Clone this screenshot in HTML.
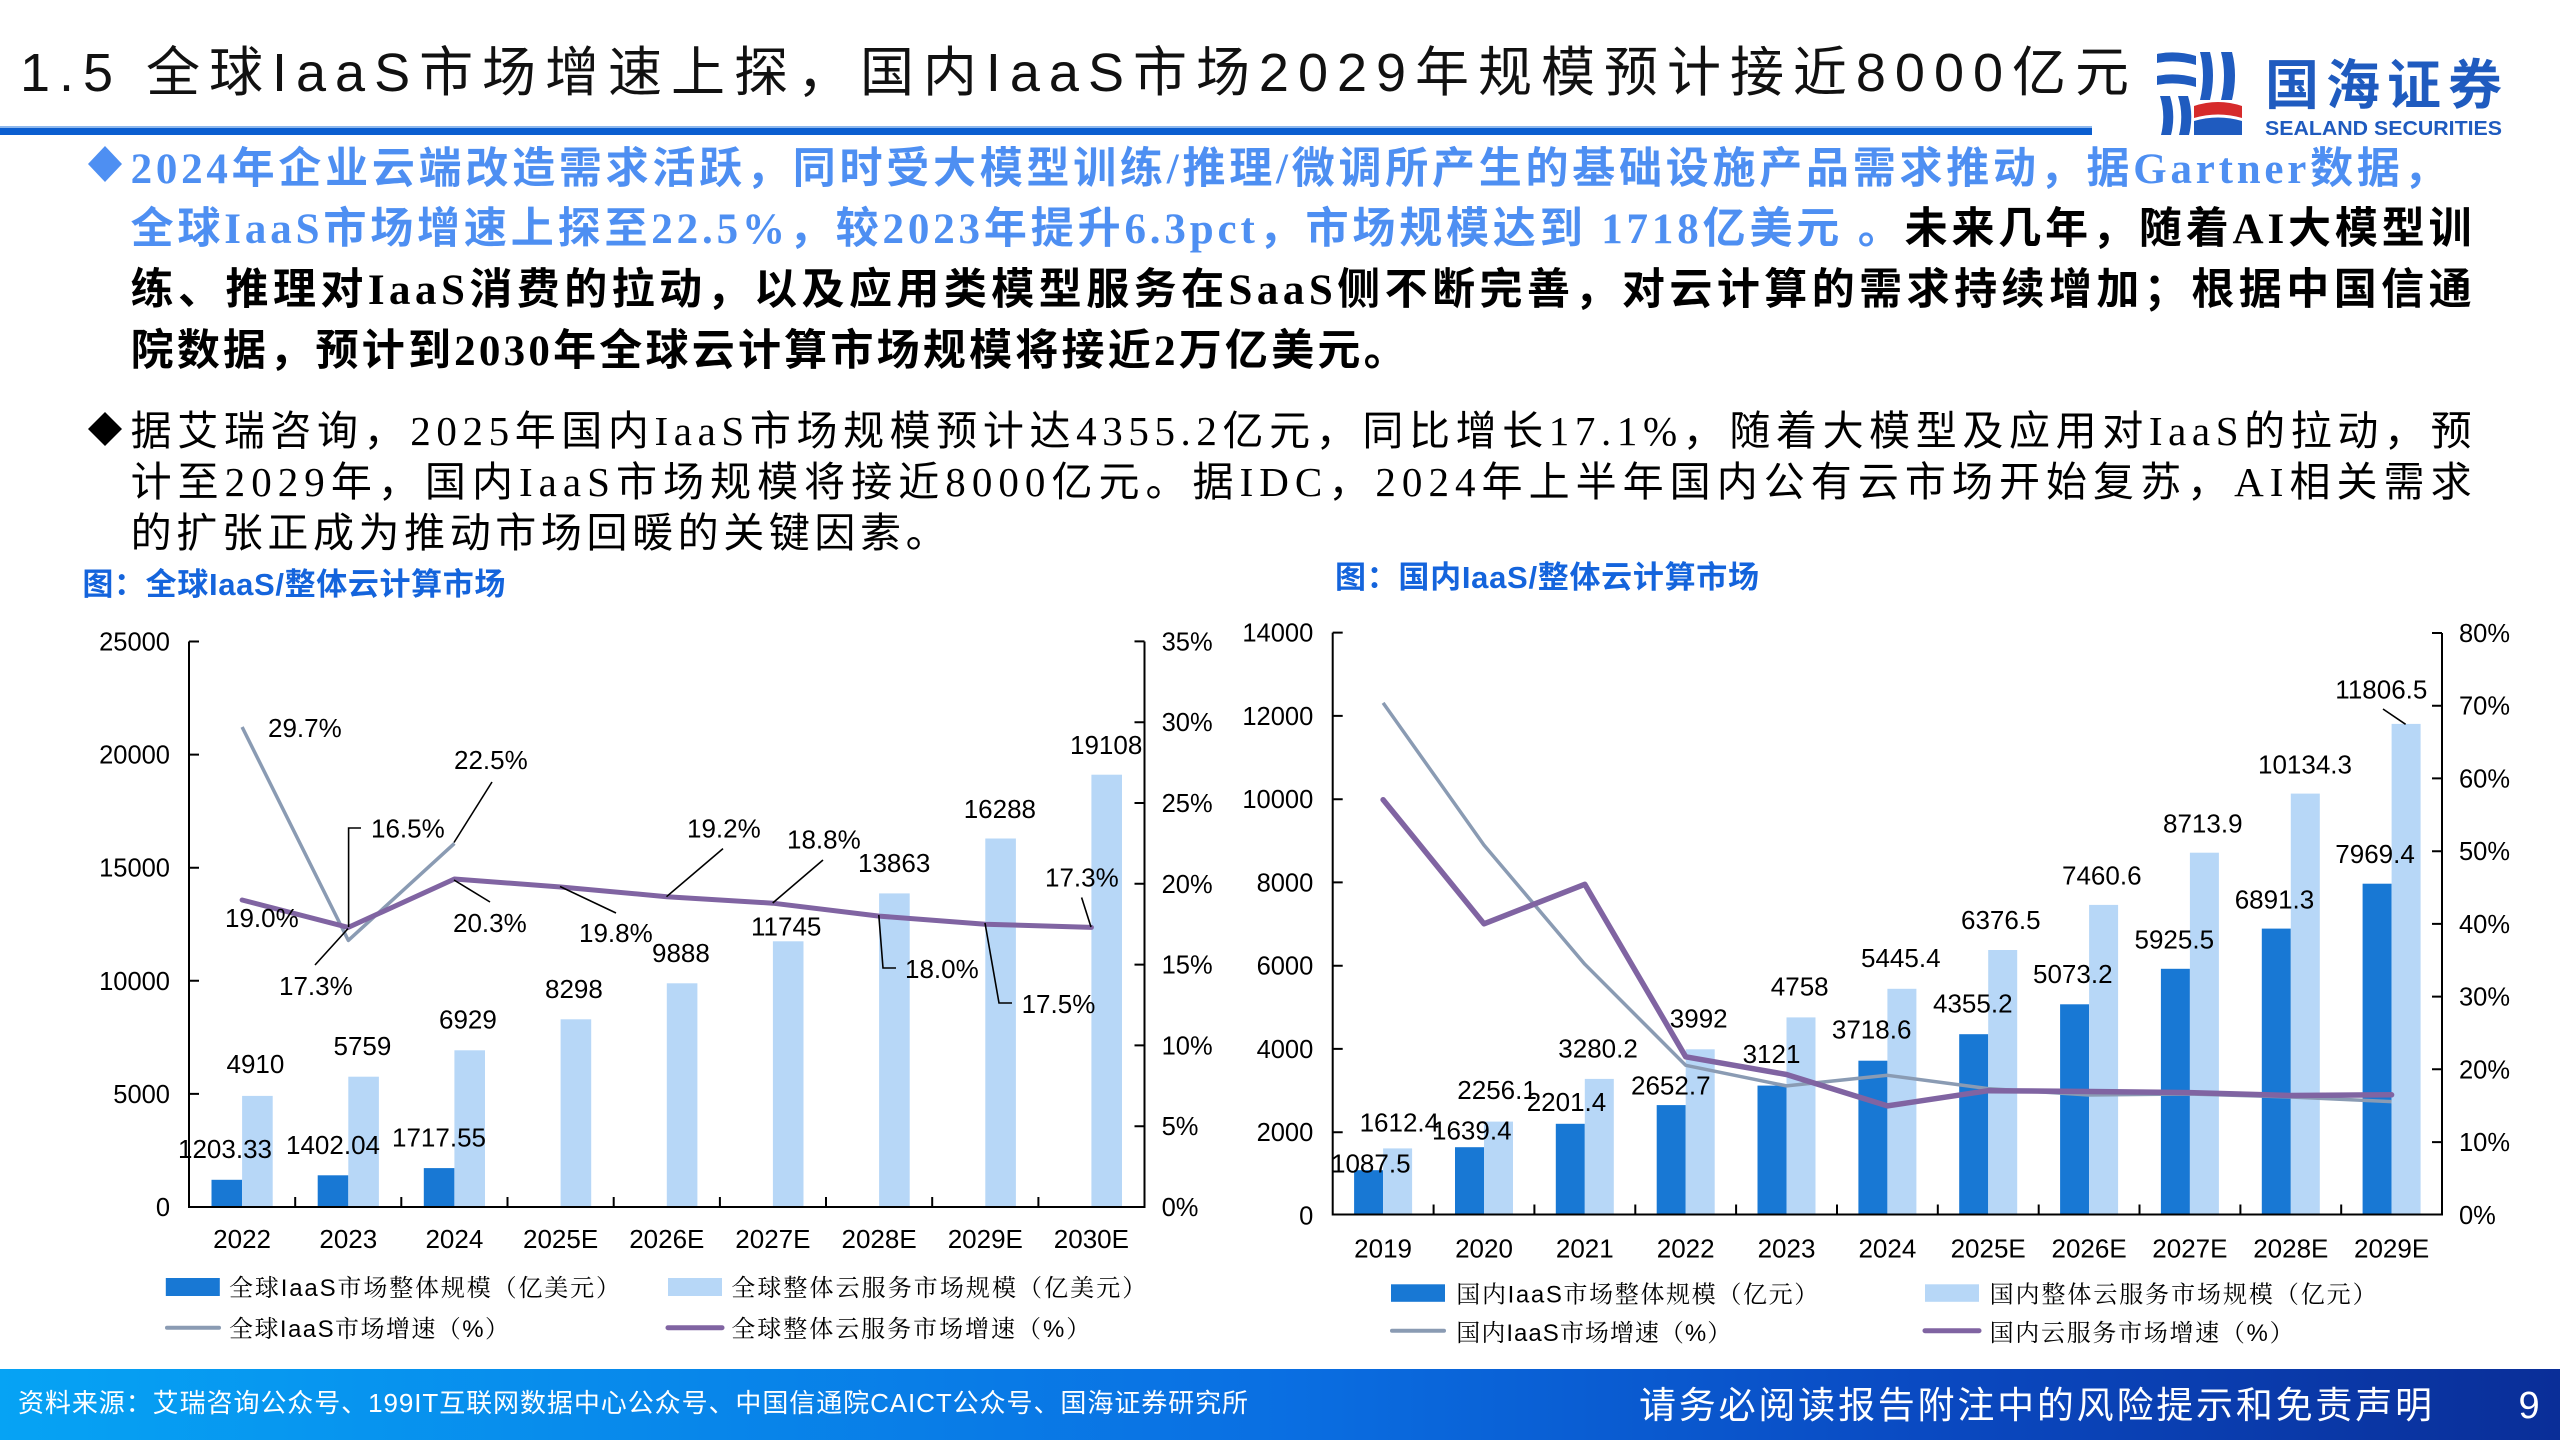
<!DOCTYPE html>
<html><head><meta charset="utf-8"><style>
html,body{margin:0;padding:0;background:#fff;}
svg{display:block;}
.t{font-family:"Liberation Sans","Noto Sans CJK SC",sans-serif;}
.b{font-family:"Liberation Serif","Noto Sans CJK SC",serif;}
.lg{font-family:"Liberation Sans","Noto Serif CJK SC",serif;font-size:24px;fill:#000;}
.d{font-family:"Liberation Sans",sans-serif;font-size:26px;fill:#000;}
.k{font-family:"Liberation Sans",sans-serif;font-size:25.5px;fill:#000;}
</style></head><body>
<svg width="2560" height="1440" viewBox="0 0 2560 1440" xmlns="http://www.w3.org/2000/svg">
<defs>
<linearGradient id="ft" x1="0" y1="0" x2="1" y2="0">
<stop offset="0" stop-color="#06a3f4"/>
<stop offset="0.5" stop-color="#0a6fe2"/>
<stop offset="0.75" stop-color="#0a4ac2"/>
<stop offset="1" stop-color="#0a2e98"/>
</linearGradient>
</defs>
<rect width="2560" height="1440" fill="#fff"/>

<!-- Title -->
<text class="t" x="20" y="91" font-size="54" fill="#111" textLength="2109" lengthAdjust="spacing">1.5 全球IaaS市场增速上探，国内IaaS市场2029年规模预计接近8000亿元</text>
<rect x="0" y="128" width="2092" height="7" fill="#0b5ed0"/>
<rect x="0" y="126" width="2092" height="2" fill="#8fb8ec"/>

<!-- Logo -->
<g fill="#1f5bbf">
<path d="M2157 54 Q2176 50 2196 56 L2196 65 Q2176 59 2157 63 Z"/>
<path d="M2157 76 Q2176 72 2196 78 L2196 87 Q2176 81 2157 85 Z"/>
<path d="M2160 96 Q2166 115 2161 135 L2171 135 Q2176 115 2170 96 Z"/>
<path d="M2178 96 Q2184 115 2179 135 L2189 135 Q2194 115 2188 96 Z"/>
<path d="M2200 52 Q2206 75 2200 100 L2210 100 Q2216 75 2210 52 Z"/>
<path d="M2221 52 Q2227 75 2221 100 L2232 100 Q2238 75 2232 52 Z"/>
<path d="M2194 121 Q2218 114 2242 121 L2242 135 L2194 135 Z"/>
</g>
<path d="M2194 106 Q2218 98 2242 106 L2242 118 Q2218 111 2194 118 Z" fill="#d62b2b"/>
<text x="2265" y="104" font-family="'Noto Sans CJK SC',sans-serif" font-weight="bold" font-size="54" fill="#1f5bbf" textLength="237" lengthAdjust="spacing">国海证券</text>
<text x="2265" y="135" font-family="'Liberation Sans',sans-serif" font-weight="bold" font-size="20" fill="#1f5bbf" textLength="237" lengthAdjust="spacingAndGlyphs">SEALAND SECURITIES</text>

<!-- Bullet 1 -->
<polygon points="105,146 122,164 105,182 88,164" fill="#4e8ff2"/>
<g class="b" font-size="43" font-weight="bold">
<text x="130.6" y="183" fill="#4e8ff2" textLength="2316" lengthAdjust="spacing">2024年企业云端改造需求活跃，同时受大模型训练/推理/微调所产生的基础设施产品需求推动，据Gartner数据，</text>
<text x="130.6" y="243" textLength="2341" lengthAdjust="spacing"><tspan fill="#4e8ff2">全球IaaS市场增速上探至22.5%，较2023年提升6.3pct，市场规模达到 1718亿美元 。</tspan><tspan fill="#000">未来几年，随着AI大模型训</tspan></text>
<text x="130.6" y="304" fill="#000" textLength="2341" lengthAdjust="spacing">练、推理对IaaS消费的拉动，以及应用类模型服务在SaaS侧不断完善，对云计算的需求持续增加；根据中国信通</text>
<text x="130.6" y="365" fill="#000" textLength="1276" lengthAdjust="spacing">院数据，预计到2030年全球云计算市场规模将接近2万亿美元。</text>
</g>

<!-- Bullet 2 -->
<polygon points="105,412 122,429 105,446 88,429" fill="#000"/>
<g class="b" font-size="41" fill="#000">
<text x="130.6" y="445" textLength="2341" lengthAdjust="spacing">据艾瑞咨询，2025年国内IaaS市场规模预计达4355.2亿元，同比增长17.1%，随着大模型及应用对IaaS的拉动，预</text>
<text x="130.6" y="496" textLength="2341" lengthAdjust="spacing">计至2029年，国内IaaS市场规模将接近8000亿元。据IDC，2024年上半年国内公有云市场开始复苏，AI相关需求</text>
<text x="130.6" y="547" textLength="816" lengthAdjust="spacing">的扩张正成为推动市场回暖的关键因素。</text>
</g>

<!-- Chart titles -->
<text class="t" x="82.4" y="595" font-size="31" font-weight="bold" fill="#1464dc" textLength="423" lengthAdjust="spacing">图：全球IaaS/整体云计算市场</text>
<text class="t" x="1335" y="588" font-size="31" font-weight="bold" fill="#1464dc" textLength="424" lengthAdjust="spacing">图：国内IaaS/整体云计算市场</text>

<!-- ================= LEFT CHART ================= -->
<g fill="#1878d4">
<rect x="211.5" y="1179.8" width="30.6" height="27.2"/>
<rect x="317.7" y="1175.3" width="30.6" height="31.7"/>
<rect x="423.8" y="1168.1" width="30.6" height="38.9"/>
</g>
<g fill="#b7d7f7">
<rect x="242.1" y="1095.9" width="30.6" height="111.1"/>
<rect x="348.3" y="1076.7" width="30.6" height="130.3"/>
<rect x="454.4" y="1050.3" width="30.6" height="156.7"/>
<rect x="560.6" y="1019.3" width="30.6" height="187.7"/>
<rect x="666.8" y="983.3" width="30.6" height="223.7"/>
<rect x="772.9" y="941.3" width="30.6" height="265.7"/>
<rect x="879.1" y="893.4" width="30.6" height="313.6"/>
<rect x="985.3" y="838.5" width="30.6" height="368.5"/>
<rect x="1091.4" y="774.7" width="30.6" height="432.3"/>
</g>
<!-- axes -->
<g stroke="#000" stroke-width="2" fill="none">
<path d="M189 641.5 V1207 H1144.5 V641.5"/>
<path d="M189 641.5 h10 M189 754.6 h10 M189 867.7 h10 M189 980.8 h10 M189 1093.9 h10"/>
<path d="M1144.5 641.4 h-10 M1144.5 722.2 h-10 M1144.5 803 h-10 M1144.5 883.8 h-10 M1144.5 964.6 h-10 M1144.5 1045.4 h-10 M1144.5 1126.2 h-10"/>
<path d="M295.2 1207 v-10 M401.3 1207 v-10 M507.5 1207 v-10 M613.7 1207 v-10 M719.9 1207 v-10 M826 1207 v-10 M932.2 1207 v-10 M1038.4 1207 v-10"/>
</g>
<g class="k" text-anchor="end">
<text x="170" y="650.5">25000</text><text x="170" y="763.6">20000</text><text x="170" y="876.7">15000</text>
<text x="170" y="989.8">10000</text><text x="170" y="1102.9">5000</text><text x="170" y="1216">0</text>
</g>
<g class="k">
<text x="1161.6" y="650.4">35%</text><text x="1161.6" y="731.2">30%</text><text x="1161.6" y="812">25%</text>
<text x="1161.6" y="892.8">20%</text><text x="1161.6" y="973.6">15%</text><text x="1161.6" y="1054.4">10%</text>
<text x="1161.6" y="1135.2">5%</text><text x="1161.6" y="1216">0%</text>
</g>
<g class="d" text-anchor="middle">
<text x="242.1" y="1248">2022</text><text x="348.3" y="1248">2023</text><text x="454.4" y="1248">2024</text>
<text x="560.6" y="1248">2025E</text><text x="666.8" y="1248">2026E</text><text x="772.9" y="1248">2027E</text>
<text x="879.1" y="1248">2028E</text><text x="985.3" y="1248">2029E</text><text x="1091.4" y="1248">2030E</text>
</g>
<!-- lines -->
<polyline points="242.1,727 348.3,940.4 454.4,843.4" fill="none" stroke="#8a9bb3" stroke-width="3.5" stroke-linejoin="round"/>
<polyline points="242.1,900 348.3,927.4 454.4,879 560.6,887 666.8,896.7 772.9,903.2 879.1,916.1 985.3,924.2 1091.4,927.4" fill="none" stroke="#8064a2" stroke-width="5" stroke-linejoin="round" stroke-linecap="round"/>
<!-- leaders -->
<g stroke="#000" stroke-width="1.6" fill="none">
<path d="M492 782 L454 842.5"/>
<path d="M361 828 H348.6 V927"/>
<path d="M315 965 L348 928.6"/>
<path d="M490 902 L454 880"/>
<path d="M616 913 L560 886.5"/>
<path d="M723 848.6 L666.5 896.7"/>
<path d="M823 860 L772.7 903"/>
<path d="M1081.6 897.5 L1091 927"/>
<path d="M896 968 H883 L878.8 915"/>
<path d="M1012 1003 H999 L985 923"/>
</g>
<g class="d">
<text x="268" y="737">29.7%</text>
<text x="454" y="769">22.5%</text>
<text x="371" y="837.5">16.5%</text>
<text x="225" y="927">19.0%</text>
<text x="279" y="995">17.3%</text>
<text x="453" y="932">20.3%</text>
<text x="579" y="942">19.8%</text>
<text x="226.5" y="1073">4910</text>
<text x="333.5" y="1055">5759</text>
<text x="439" y="1028.6">6929</text>
<text x="545" y="998">8298</text>
<text x="652" y="962">9888</text>
<text x="178" y="1158">1203.33</text>
<text x="286" y="1154">1402.04</text>
<text x="392" y="1146.5">1717.55</text>
<text x="687" y="837.5">19.2%</text>
<text x="787" y="848.6">18.8%</text>
<text x="858" y="872">13863</text>
<text x="751" y="935.5">11745</text>
<text x="963.7" y="818">16288</text>
<text x="1070" y="754">19108</text>
<text x="1045" y="886.5">17.3%</text>
<text x="905" y="978">18.0%</text>
<text x="1021.6" y="1013">17.5%</text>
</g>
<!-- legend left -->
<rect x="165.8" y="1278" width="54" height="18" fill="#1878d4"/>
<text class="lg" x="229" y="1296" textLength="391" lengthAdjust="spacing">全球IaaS市场整体规模（亿美元）</text>
<rect x="668" y="1278" width="54" height="18" fill="#b7d7f7"/>
<text class="lg" x="731.3" y="1296" textLength="415" lengthAdjust="spacing">全球整体云服务市场规模（亿美元）</text>
<line x1="167" y1="1327.7" x2="219" y2="1327.7" stroke="#8a9bb3" stroke-width="4" stroke-linecap="round"/>
<text class="lg" x="229" y="1337" textLength="280" lengthAdjust="spacing">全球IaaS市场增速（%）</text>
<line x1="668" y1="1327.7" x2="722" y2="1327.7" stroke="#8064a2" stroke-width="5" stroke-linecap="round"/>
<text class="lg" x="731.3" y="1337" textLength="359" lengthAdjust="spacing">全球整体云服务市场增速（%）</text>

<!-- ================= RIGHT CHART ================= -->
<g fill="#1878d4">
<rect x="1354.1" y="1170.2" width="29" height="45.3"/>
<rect x="1455.0" y="1147.2" width="29" height="68.3"/>
<rect x="1555.8" y="1123.8" width="29" height="91.7"/>
<rect x="1656.7" y="1105.1" width="29" height="110.4"/>
<rect x="1757.5" y="1085.6" width="29" height="129.9"/>
<rect x="1858.4" y="1060.7" width="29" height="154.8"/>
<rect x="1959.2" y="1034.2" width="29" height="181.3"/>
<rect x="2060.1" y="1004.3" width="29" height="211.2"/>
<rect x="2160.9" y="968.8" width="29" height="246.7"/>
<rect x="2261.8" y="928.6" width="29" height="286.9"/>
<rect x="2362.6" y="883.7" width="29" height="331.8"/>
</g>
<g fill="#b7d7f7">
<rect x="1383.1" y="1148.4" width="29" height="67.1"/>
<rect x="1484.0" y="1121.6" width="29" height="93.9"/>
<rect x="1584.8" y="1078.9" width="29" height="136.6"/>
<rect x="1685.7" y="1049.3" width="29" height="166.2"/>
<rect x="1786.5" y="1017.4" width="29" height="198.1"/>
<rect x="1887.4" y="988.8" width="29" height="226.7"/>
<rect x="1988.2" y="950.0" width="29" height="265.5"/>
<rect x="2089.1" y="904.9" width="29" height="310.6"/>
<rect x="2189.9" y="852.7" width="29" height="362.8"/>
<rect x="2290.8" y="793.6" width="29" height="421.9"/>
<rect x="2391.6" y="723.9" width="29" height="491.6"/>
</g>
<g stroke="#000" stroke-width="2" fill="none">
<path d="M1332.7 632.6 V1214.5 H2442 V633"/>
<path d="M1332.7 632.6 h10 M1332.7 715.9 h10 M1332.7 799.2 h10 M1332.7 882.4 h10 M1332.7 965.7 h10 M1332.7 1048.9 h10 M1332.7 1132.2 h10"/>
<path d="M2442 633 h-10 M2442 705.7 h-10 M2442 778.4 h-10 M2442 851.2 h-10 M2442 923.9 h-10 M2442 996.6 h-10 M2442 1069.3 h-10 M2442 1142.1 h-10"/>
<path d="M1433.6 1214.5 v-10 M1534.4 1214.5 v-10 M1635.3 1214.5 v-10 M1736.1 1214.5 v-10 M1837 1214.5 v-10 M1937.8 1214.5 v-10 M2038.7 1214.5 v-10 M2139.5 1214.5 v-10 M2240.4 1214.5 v-10 M2341.2 1214.5 v-10"/>
</g>
<g class="k" text-anchor="end">
<text x="1313.3" y="641.6">14000</text><text x="1313.3" y="724.9">12000</text><text x="1313.3" y="808.2">10000</text>
<text x="1313.3" y="891.4">8000</text><text x="1313.3" y="974.7">6000</text><text x="1313.3" y="1057.9">4000</text>
<text x="1313.3" y="1141.2">2000</text><text x="1313.3" y="1224.5">0</text>
</g>
<g class="k">
<text x="2459" y="642">80%</text><text x="2459" y="714.7">70%</text><text x="2459" y="787.4">60%</text>
<text x="2459" y="860.2">50%</text><text x="2459" y="932.9">40%</text><text x="2459" y="1005.6">30%</text>
<text x="2459" y="1078.3">20%</text><text x="2459" y="1151.1">10%</text><text x="2459" y="1224">0%</text>
</g>
<g class="d" text-anchor="middle">
<text x="1383.1" y="1257.7">2019</text><text x="1484.0" y="1257.7">2020</text><text x="1584.8" y="1257.7">2021</text>
<text x="1685.7" y="1257.7">2022</text><text x="1786.5" y="1257.7">2023</text><text x="1887.4" y="1257.7">2024</text>
<text x="1988.2" y="1257.7">2025E</text><text x="2089.1" y="1257.7">2026E</text><text x="2189.9" y="1257.7">2027E</text>
<text x="2290.8" y="1257.7">2028E</text><text x="2391.6" y="1257.7">2029E</text>
</g>
<polyline points="1383.1,702.9 1484,845.1 1584.8,964.2 1685.7,1065.3 1786.5,1085.9 1887.4,1075.3 1988.2,1088.6 2089.1,1095 2189.9,1094 2290.8,1097 2391.6,1101.6" fill="none" stroke="#8a9bb3" stroke-width="3.5" stroke-linejoin="round"/>
<polyline points="1383.1,799.7 1484,923.8 1584.8,884.3 1685.7,1056.8 1786.5,1074.5 1887.4,1105.9 1988.2,1090.7 2089.1,1091.5 2189.9,1092.6 2290.8,1095.5 2391.6,1094.8" fill="none" stroke="#8064a2" stroke-width="5.5" stroke-linejoin="round" stroke-linecap="round"/>
<line x1="2383" y1="709" x2="2405.6" y2="724.3" stroke="#000" stroke-width="1.6"/>
<g class="d">
<text x="1359.6" y="1131.3">1612.4</text>
<text x="1331" y="1172.6">1087.5</text>
<text x="1457.3" y="1099">2256.1</text>
<text x="1432" y="1139.7">1639.4</text>
<text x="1558.3" y="1057.7">3280.2</text>
<text x="1526.7" y="1111">2201.4</text>
<text x="1669.8" y="1027.4">3992</text>
<text x="1631" y="1094.7">2652.7</text>
<text x="1770.8" y="995.4">4758</text>
<text x="1742.6" y="1063">3121</text>
<text x="1831.9" y="1038.7">3718.6</text>
<text x="1861" y="967">5445.4</text>
<text x="1961" y="929">6376.5</text>
<text x="1933" y="1012.7">4355.2</text>
<text x="2062" y="884.7">7460.6</text>
<text x="2033" y="983.2">5073.2</text>
<text x="2163" y="832.7">8713.9</text>
<text x="2134.5" y="948.5">5925.5</text>
<text x="2258" y="773.3">10134.3</text>
<text x="2234.7" y="908.6">6891.3</text>
<text x="2335.3" y="698.3">11806.5</text>
<text x="2335.3" y="863">7969.4</text>
</g>
<!-- legend right -->
<rect x="1391" y="1284.3" width="54" height="17.5" fill="#1878d4"/>
<text class="lg" x="1456.3" y="1302.5" textLength="362" lengthAdjust="spacing">国内IaaS市场整体规模（亿元）</text>
<rect x="1925" y="1284.3" width="54" height="17.5" fill="#b7d7f7"/>
<text class="lg" x="1989.6" y="1302.5" textLength="387" lengthAdjust="spacing">国内整体云服务市场规模（亿元）</text>
<line x1="1392" y1="1330.7" x2="1444" y2="1330.7" stroke="#8a9bb3" stroke-width="4" stroke-linecap="round"/>
<text class="lg" x="1456.3" y="1341" textLength="275" lengthAdjust="spacing">国内IaaS市场增速（%）</text>
<line x1="1925" y1="1330.7" x2="1979" y2="1330.7" stroke="#8064a2" stroke-width="5" stroke-linecap="round"/>
<text class="lg" x="1989.6" y="1341" textLength="304" lengthAdjust="spacing">国内云服务市场增速（%）</text>

<!-- Footer -->
<rect x="0" y="1369" width="2560" height="71" fill="url(#ft)"/>
<text class="t" x="18" y="1412" font-size="26" fill="#fff" textLength="1230" lengthAdjust="spacing">资料来源：艾瑞咨询公众号、199IT互联网数据中心公众号、中国信通院CAICT公众号、国海证券研究所</text>
<text class="t" x="1639" y="1418" font-size="37" fill="#fff" textLength="793" lengthAdjust="spacing">请务必阅读报告附注中的风险提示和免责声明</text>
<text class="t" x="2518.5" y="1418" font-size="38" fill="#fff">9</text>
</svg>
</body></html>
